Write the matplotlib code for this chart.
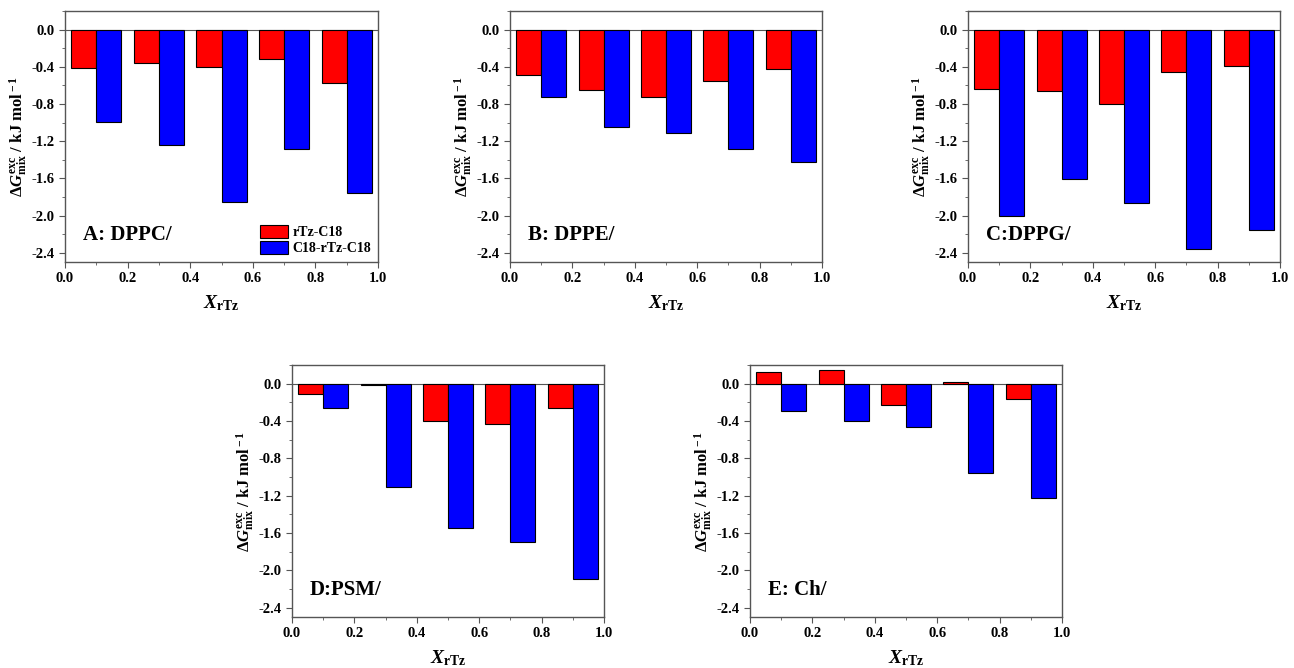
import numpy as np
import matplotlib
matplotlib.use('Agg')
import matplotlib.pyplot as plt
from matplotlib.ticker import MultipleLocator

plt.rcParams['font.family'] = 'Liberation Serif'
plt.rcParams['font.weight'] = 'bold'
plt.rcParams['mathtext.fontset'] = 'custom'
plt.rcParams['mathtext.rm'] = 'Liberation Serif:bold'
plt.rcParams['mathtext.it'] = 'Liberation Serif:bold:italic'
plt.rcParams['mathtext.bf'] = 'Liberation Serif:bold'

x_rtz = [0.1, 0.3, 0.5, 0.7, 0.9]
series = ['rTz-C18', 'C18-rTz-C18']

# panel labels
labels = ['A: DPPC/', 'B: DPPE/', 'C:DPPG/', 'D:PSM/', 'E: Ch/']

# excess Gibbs energy of mixing, kJ/mol
dppc_red = [-0.41, -0.36, -0.40, -0.32, -0.57]
dppc_blue = [-0.99, -1.24, -1.85, -1.28, -1.76]
dppe_red = [-0.49, -0.65, -0.72, -0.55, -0.42]
dppe_blue = [-0.72, -1.05, -1.11, -1.28, -1.42]
dppg_red = [-0.64, -0.66, -0.80, -0.46, -0.39]
dppg_blue = [-2.01, -1.61, -1.86, -2.36, -2.16]
psm_red = [-0.11, -0.01, -0.40, -0.43, -0.26]
psm_blue = [-0.26, -1.11, -1.55, -1.70, -2.09]
ch_red = [0.13, 0.15, -0.23, 0.02, -0.16]
ch_blue = [-0.29, -0.40, -0.46, -0.96, -1.23]

data = [(dppc_red, dppc_blue), (dppe_red, dppe_blue), (dppg_red, dppg_blue),
        (psm_red, psm_blue), (ch_red, ch_blue)]

yticks = [-2.4, -2.0, -1.6, -1.2, -0.8, -0.4, 0.0]
xticks = [0.0, 0.2, 0.4, 0.6, 0.8, 1.0]

W, H = 1294, 668
fig = plt.figure(figsize=(W / 100, H / 100), dpi=100)

# axes boxes in pixels: left, top, right, bottom
boxes = [(65, 11, 378, 262), (510, 11, 822, 262), (968, 11, 1280, 262),
         (292, 365, 604, 617), (750, 365, 1062, 617)]

w = 0.08
for i, (box, (red, blue)) in enumerate(zip(boxes, data)):
    l, t, r, b = box
    ax = fig.add_axes([l / W, 1 - b / H, (r - l) / W, (b - t) / H])
    xs = np.array(x_rtz)
    ax.bar(xs - w / 2, red, w, color='#ff0000', edgecolor='black', linewidth=0.8, label=series[0], zorder=3)
    ax.bar(xs + w / 2, blue, w, color='#0000ff', edgecolor='black', linewidth=0.8, label=series[1], zorder=3)
    ax.axhline(0, color='#555555', linewidth=0.8, zorder=2)
    ax.set_xlim(0, 1)
    ax.set_ylim(-2.5, 0.2)
    ax.set_yticks(yticks)
    ax.set_xticks(xticks)
    ax.yaxis.set_minor_locator(MultipleLocator(0.2))
    ax.xaxis.set_minor_locator(MultipleLocator(0.1))
    ax.set_yticklabels(['%.1f' % v for v in yticks])
    ax.set_xticklabels(['%.1f' % v for v in xticks])
    ax.tick_params(which='both', direction='out', colors='#555555', labelcolor='black', labelsize=10.5)
    ax.tick_params(which='major', length=4)
    ax.tick_params(which='minor', length=2)
    for s in ax.spines.values():
        s.set_color('#555555')
        s.set_linewidth(1)
    for lab in ax.get_xticklabels() + ax.get_yticklabels():
        lab.set_fontweight('bold')
    ax.set_ylabel(r'$\Delta G^{\rm exc}_{\rm mix}\ /\ {\rm kJ\ mol}^{\rm -1}$', fontsize=12, labelpad=2)
    ax.set_xlabel(r'$X_{\rm rTz}$', fontsize=14, labelpad=6)
    ax.text(0.058, 0.107, labels[i], transform=ax.transAxes, fontsize=15,
            fontweight='bold', va='center', ha='left')
    if i == 0:
        ax.legend(loc='lower right', frameon=False, handlelength=2.0,
                  handleheight=1.1, borderaxespad=0.1, labelspacing=0.1,
                  handletextpad=0.3, prop={'weight': 'bold', 'size': 10})

fig.savefig('out.png', dpi=100)
